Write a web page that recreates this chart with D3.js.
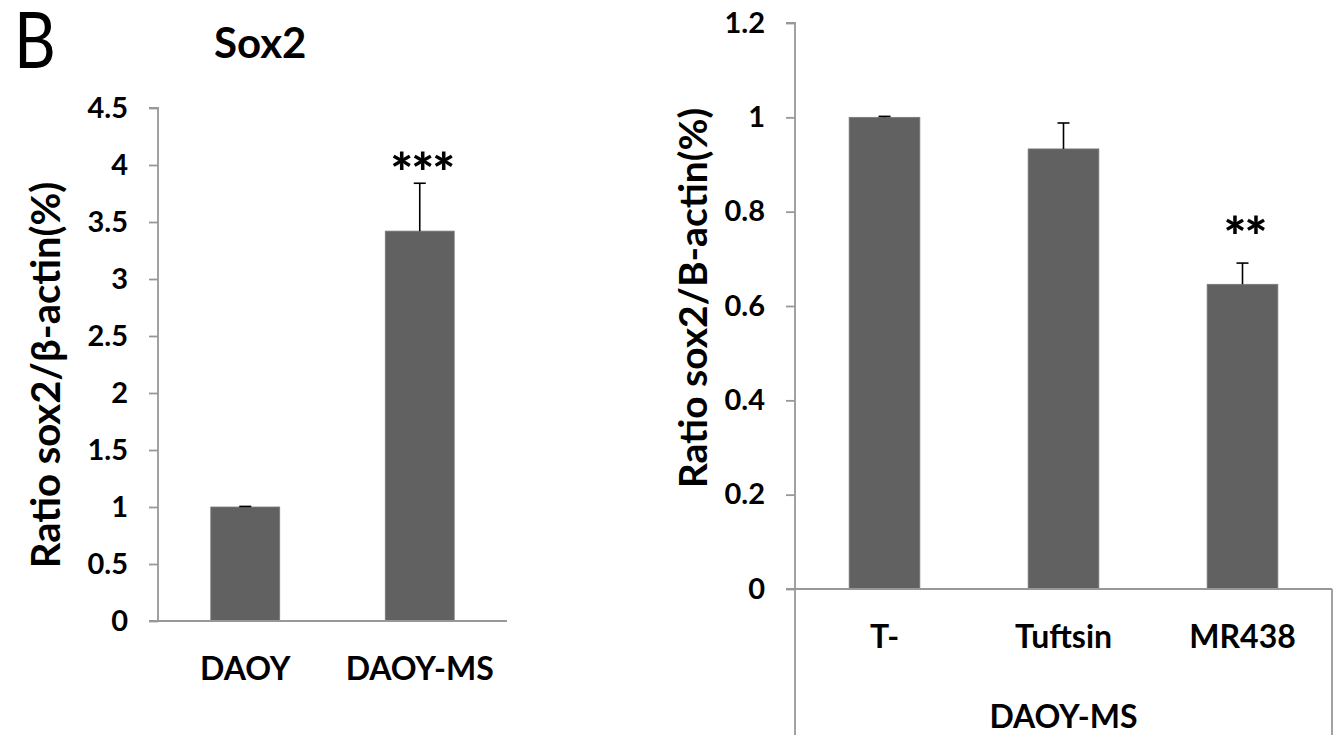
<!DOCTYPE html>
<html>
<head>
<meta charset="utf-8">
<script src="https://cdn.jsdelivr.net/npm/d3@7/dist/d3.min.js"></script>
<style>
  html, body { margin: 0; padding: 0; background: #fff; }
  svg { display: block; }
  text { font-family: Lato, "Open Sans", sans-serif; fill: #000; }
</style>
</head>
<body>
<svg id="chart" width="1335" height="735"></svg>
<script>
// ---- Data ----
const leftCategories = ["DAOY", "DAOY-MS"];
const leftValues = [1.0, 3.42];
const leftErrors = [0.005, 0.42];
const leftSignif = ["", "***"];
const leftSignifAt = [null, 4.03];   // value level of the star label centre
const leftTicks = [0, 0.5, 1, 1.5, 2, 2.5, 3, 3.5, 4, 4.5];

const rightCategories = ["T-", "Tuftsin", "MR438"];
const rightValues = [1.0, 0.933, 0.646];
const rightErrors = [0.002, 0.055, 0.045];
const rightSignif = ["", "", "**"];
const rightSignifAt = [null, null, 0.77];
const rightTicks = [0, 0.2, 0.4, 0.6, 0.8, 1, 1.2];
const rightGroup = "DAOY-MS";

const panelLetter = "B";
const leftTitle = "Sox2";
const leftYLabel = "Ratio sox2/\u03B2-actin(%)";
const rightYLabel = "Ratio sox2/B-actin(%)";

// ---- Styles ----
const barColor = "#616161";
const axisColor = "#989898";
const svg = d3.select("#chart");

function drawPanel(opts) {
  const g = svg.append("g");
  const y = d3.scaleLinear().domain(opts.yDomain).range([opts.y0, opts.y1]);
  const x = d3.scaleBand().domain(opts.cats).range([opts.x0, opts.x1]).padding(0);
  const barW = x.bandwidth() * 0.395;

  // bars
  g.selectAll("rect.bar").data(opts.vals).join("rect")
    .attr("class", "bar")
    .attr("x", (d, i) => x(opts.cats[i]) + x.bandwidth() / 2 - barW / 2)
    .attr("y", d => y(d))
    .attr("width", barW)
    .attr("height", d => y(0) - y(d))
    .attr("fill", barColor)
    .attr("stroke", "#7a7a7a")
    .attr("stroke-width", 0.8);

  // error bars (upper only)
  opts.vals.forEach((v, i) => {
    const cx = x(opts.cats[i]) + x.bandwidth() / 2;
    const top = y(v + opts.errs[i]);
    g.append("line").attr("x1", cx).attr("x2", cx).attr("y1", y(v)).attr("y2", top)
      .attr("stroke", "#000").attr("stroke-width", 1.6);
    g.append("line").attr("x1", cx - 6).attr("x2", cx + 6).attr("y1", top).attr("y2", top)
      .attr("stroke", "#000").attr("stroke-width", 1.6);
    if (opts.sig[i]) {
      // asterisk glyph centre sits ~0.56em above the baseline
      g.append("text").attr("x", cx + 2).attr("y", y(opts.sigAt[i]) + 54 * 0.56)
        .attr("text-anchor", "middle")
        .attr("font-size", 54).attr("font-weight", 900)
        .style("letter-spacing", "-2px")
        .text(opts.sig[i]);
    }
  });

  // y axis
  const yAxis = d3.axisLeft(y).tickValues(opts.ticks).tickSize(9).tickPadding(21)
    .tickFormat(d => String(+d.toFixed(2)));
  const ya = g.append("g").attr("transform", `translate(${opts.x0},0)`).call(yAxis);
  ya.select(".domain").attr("stroke", axisColor).attr("stroke-width", 1.8)
    .attr("d", `M-9,${y(opts.yDomain[1])}H0V${y(0)}`);
  ya.selectAll(".tick line").attr("stroke", axisColor).attr("stroke-width", 1.8);
  ya.selectAll(".tick text").attr("font-size", 29).attr("font-weight", 700)
    .attr("font-family", "Lato, sans-serif").attr("fill", "#000");

  // x axis
  const xAxis = d3.axisBottom(x).tickSize(0).tickPadding(opts.xPad);
  const xa = g.append("g").attr("transform", `translate(0,${y(0)})`).call(xAxis);
  xa.select(".domain").attr("stroke", axisColor).attr("stroke-width", 1.8)
    .attr("d", `M${opts.x0 - 9},0H${opts.x1}`);
  xa.selectAll(".tick text").attr("font-size", 32).attr("font-weight", 700)
    .attr("font-family", "Lato, sans-serif").attr("fill", "#000");

  // y label
  g.append("text")
    .attr("transform", `translate(${opts.yLabelX},${opts.yLabelY}) rotate(-90)`)
    .attr("text-anchor", "middle")
    .attr("dominant-baseline", "central")
    .attr("font-size", opts.yLabelSize).attr("font-weight", 700)
    .text(opts.yLabel);
  return { x, y, g };
}

// Left panel
drawPanel({
  cats: leftCategories, vals: leftValues, errs: leftErrors, sig: leftSignif, sigAt: leftSignifAt,
  ticks: leftTicks, yDomain: [0, 4.5], y0: 621, y1: 108, x0: 158, x1: 507,
  xPad: 36, yLabel: leftYLabel, yLabelX: 45, yLabelY: 375, yLabelSize: 40
});

// Right panel
const right = drawPanel({
  cats: rightCategories, vals: rightValues, errs: rightErrors, sig: rightSignif, sigAt: rightSignifAt,
  ticks: rightTicks, yDomain: [0, 1.2], y0: 589, y1: 23, x0: 795, x1: 1332,
  xPad: 36, yLabel: rightYLabel, yLabelX: 692, yLabelY: 298, yLabelSize: 39
});
// multi-level category box
right.g.append("line").attr("x1", 795).attr("x2", 795).attr("y1", 589).attr("y2", 735)
  .attr("stroke", axisColor).attr("stroke-width", 1.8);
right.g.append("line").attr("x1", 1332).attr("x2", 1332).attr("y1", 589).attr("y2", 735)
  .attr("stroke", axisColor).attr("stroke-width", 1.8);
right.g.append("text").attr("x", (795 + 1332) / 2).attr("y", 715)
  .attr("text-anchor", "middle").attr("dominant-baseline", "central")
  .attr("font-size", 32).attr("font-weight", 700).text(rightGroup);

// panel letter and title
svg.append("text").attr("transform", "translate(14,68) scale(0.84,1)")
  .attr("font-size", 77).attr("font-weight", 400).text(panelLetter);
svg.append("text").attr("x", 214).attr("y", 58).attr("font-size", 42)
  .attr("font-weight", 700).text(leftTitle);
</script>
</body>
</html>
